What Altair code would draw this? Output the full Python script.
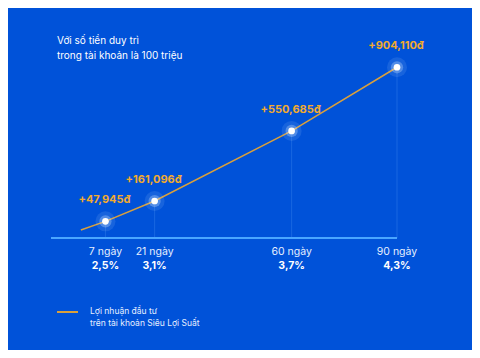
import altair as alt
import pandas as pd

# Data
days = [0, 7, 21, 60, 90]
profit = [0, 47945, 161096, 550685, 904110]
value_labels = ["", "+47,945đ", "+161,096đ", "+550,685đ", "+904,110đ"]
term_labels = ["", "7 ngày", "21 ngày", "60 ngày", "90 ngày"]
rate_labels = ["", "2,5%", "3,1%", "3,7%", "4,3%"]
title_lines = ["Với số tiền duy trì", "trong tài khoản là 100 triệu"]
legend_lines = ["Lợi nhuận đầu tư", "trên tài khoản Siêu Lợi Suất"]

X_MIN, X_MAX = -8.5, 90
Y_MIN, Y_MAX = -44444, 1000000

df = pd.DataFrame({"day": days, "profit": profit, "vlabel": value_labels,
                   "term": term_labels, "rate": rate_labels})
df["ymin"] = Y_MIN
pts = df[df["day"] > 0]

BG = "#0052d9"
ORANGE_LINE = "#d9a03c"
ORANGE_TXT = "#f2aa2e"
BASE = "#4aa6ff"
FONT = "Inter"

xs = alt.Scale(domain=[X_MIN, X_MAX], nice=False, zero=False)
ys = alt.Scale(domain=[Y_MIN, Y_MAX], nice=False, zero=False)
X = alt.X("day:Q", scale=xs, axis=None)
Y = alt.Y("profit:Q", scale=ys, axis=None)
YB = alt.Y("ymin:Q", scale=ys, axis=None)

base = alt.Chart(df)
pbase = alt.Chart(pts)

drops = pbase.mark_rule(color="#6fb3ff", opacity=0.22, strokeWidth=1).encode(
    x=X, y=Y, y2="ymin:Q")

bl = pd.DataFrame({"a": [X_MIN], "b": [X_MAX], "ymin": [Y_MIN]})
baseline = alt.Chart(bl).mark_rule(color=BASE, strokeWidth=2).encode(
    x=alt.X("a:Q", scale=xs, axis=None), x2="b:Q", y=YB)

line = base.mark_line(color=ORANGE_LINE, strokeWidth=1.5).encode(x=X, y=Y)

glow1 = pbase.mark_circle(color="#bfe0ff", opacity=0.12, size=400).encode(x=X, y=Y)
glow2 = pbase.mark_circle(color="#d8ecff", opacity=0.3, size=150).encode(x=X, y=Y)
core = pbase.mark_circle(color="#ffffff", opacity=1, size=45).encode(x=X, y=Y)

vtext = pbase.mark_text(color=ORANGE_TXT, font=FONT, fontSize=11, fontWeight="bold",
                        dy=-21, dx=-1).encode(x=X, y=Y, text="vlabel:N")

term = pbase.mark_text(color="#e6efff", font=FONT, fontSize=10.5, dy=14).encode(
    x=X, y=YB, text="term:N")
rate = pbase.mark_text(color="#ffffff", font=FONT, fontSize=10.5, fontWeight="bold", dy=28).encode(
    x=X, y=YB, text="rate:N")

title = alt.Chart(pd.DataFrame({"t": ["\n".join(title_lines)]})).mark_text(
    color="#ffffff", font=FONT, fontSize=10, align="left", baseline="top",
    lineBreak="\n", lineHeight=15).encode(
    x=alt.value(6), y=alt.value(-14), text="t:N")

leg_line = alt.Chart(pd.DataFrame({"a": [0]})).mark_rule(
    color=ORANGE_LINE, strokeWidth=2).encode(
    x=alt.value(6), x2=alt.value(27), y=alt.value(262))
leg_text = alt.Chart(pd.DataFrame({"t": ["\n".join(legend_lines)]})).mark_text(
    color="#e6efff", font=FONT, fontSize=8.5, align="left", baseline="middle",
    lineBreak="\n", lineHeight=12).encode(
    x=alt.value(39), y=alt.value(261), text="t:N")

chart = alt.layer(drops, baseline, line, glow1, glow2, core, vtext, term, rate,
                  title, leg_line, leg_text).properties(
    width=346, height=188,
    background=BG,
    padding={"left": 43, "top": 42, "right": 75, "bottom": 112},
    autosize=alt.AutoSizeParams(type="none"),
).configure_view(stroke=None)

chart.save("out.html", embed_options={"renderer": "svg", "actions": False})
